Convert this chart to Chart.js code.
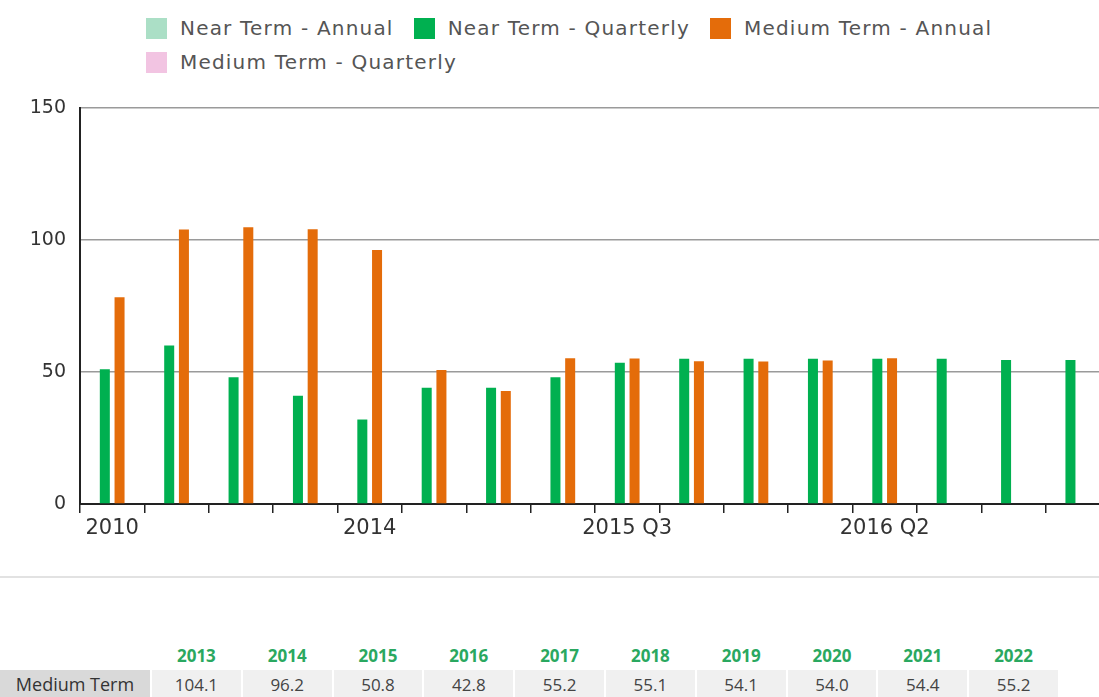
<!DOCTYPE html>
<html>
<head>
<meta charset="utf-8">
<script src="https://cdn.jsdelivr.net/npm/chart.js@4/dist/chart.umd.min.js"></script>
<style>
  html, body { margin: 0; padding: 0; background: #fff; }
  body { width: 1099px; height: 697px; overflow: hidden; position: relative; font-family: "DejaVu Sans", sans-serif; }
  #legend { position: absolute; top: 17px; left: 146px; width: 920px; display: flex; flex-wrap: wrap; row-gap: 12px; }
  .lg-item { display: flex; align-items: center; margin-right: 20px; font-size: 20px; letter-spacing: 1.2px; color: #555; height: 22px; }
  .lg-box { width: 21px; height: 21px; margin-right: 13px; }
  #chart-wrap { position: absolute; top: 0; left: 0; width: 1112px; height: 560px; }
  #sep { position: absolute; top: 576px; left: 0; width: 1099px; height: 2px; background: #e2e2e2; }
  #tbl { position: absolute; top: 640px; left: -2px; border-collapse: separate; border-spacing: 2px 0; font-family: "Open Sans", sans-serif; font-size: 17px; }
  #tbl th { color: #2aa860; font-weight: bold; height: 30px; width: 88.8px; text-align: center; padding: 0; }
  #tbl td { background: #f0f0f0; color: #444; height: 28px; text-align: center; padding: 0; }
  #tbl td.rowlab { background: #d9d9d9; width: 150px; color: #333; font-size: 18px; }
</style>
</head>
<body>
<div id="legend"></div>
<div id="chart-wrap"><canvas id="chart" width="1112" height="560"></canvas></div>
<div id="sep"></div>
<table id="tbl"></table>
<script>
// ── DATA ─────────────────────────────────────────────
// only every 4th category has a readable label on the axis
const categories = ['2010', '', '', '', '2014', '', '', '', '2015 Q3', '', '', '', '2016 Q2', '', '', ''];
const yTicks = [0, 50, 100, 150];

const nearAnnual = categories.map(() => null);
const nearQuarterly = [51, 60, 48, 41, 32, 44, 44, 48, 53.5, 55, 55, 55, 55, 55, 54.5, 54.5];
const mediumAnnual = [78.3, 104, 104.8, 104.1, 96.2, 50.8, 42.8, 55.2, 55.1, 54.1, 54.0, 54.4, 55.2, null, null, null];
const mediumQuarterly = categories.map(() => null);

const tableYears = ['2013', '2014', '2015', '2016', '2017', '2018', '2019', '2020', '2021', '2022'];
const tableMedium = ['104.1', '96.2', '50.8', '42.8', '55.2', '55.1', '54.1', '54.0', '54.4', '55.2'];

const series = [
  { label: 'Near Term - Annual', data: nearAnnual, color: '#abdfc6' },
  { label: 'Near Term - Quarterly', data: nearQuarterly, color: '#00b050' },
  { label: 'Medium Term - Annual', data: mediumAnnual, color: '#e46c0a' },
  { label: 'Medium Term - Quarterly', data: mediumQuarterly, color: '#f2c4e2' },
];

// ── LEGEND ───────────────────────────────────────────
document.getElementById('legend').innerHTML = series.map(s =>
  `<div class="lg-item"><span class="lg-box" style="background:${s.color}"></span>${s.label}</div>`
).join('');

// ── TABLE ────────────────────────────────────────────
document.getElementById('tbl').innerHTML =
  '<tr><th style="width:150px"></th>' + tableYears.map(y => `<th>${y}</th>`).join('') + '</tr>' +
  '<tr><td class="rowlab">Medium Term</td>' + tableMedium.map(v => `<td>${v}</td>`).join('') + '</tr>';

// ── CHART ────────────────────────────────────────────
new Chart(document.getElementById('chart'), {
  type: 'bar',
  data: {
    labels: categories,
    datasets: series.map(s => ({
      label: s.label,
      data: s.data,
      backgroundColor: s.color,
      borderWidth: 0,
      categoryPercentage: 0.915,
      barPercentage: 0.68,
    }))
  },
  options: {
    responsive: false,
    animation: false,
    layout: { padding: { top: 108, right: 2, left: 0, bottom: 0 } },
    plugins: { legend: { display: false }, tooltip: { enabled: false } },
    scales: {
      x: {
        afterFit: scale => { scale.height = 56; },
        grid: { offset: true, drawOnChartArea: false, drawTicks: true, tickLength: 9, color: '#222', lineWidth: 1.5 },
        border: { color: '#222', width: 2 },
        ticks: {
          autoSkip: false, maxRotation: 0, padding: 3,
          color: '#333', font: { family: 'DejaVu Sans', size: 21 },
          callback: (v, i) => categories[i],
        },
      },
      y: {
        min: 0, max: 150,
        afterFit: scale => { scale.width = 80; },
        afterBuildTicks: scale => { scale.ticks = yTicks.map(v => ({ value: v })); },
        grid: { color: '#9a9a9a', lineWidth: 1.5, drawTicks: false },
        border: { color: '#222', width: 2 },
        ticks: { padding: 14, color: '#333', font: { family: 'DejaVu Sans', size: 19 } },
      }
    }
  }
});
</script>
</body>
</html>
